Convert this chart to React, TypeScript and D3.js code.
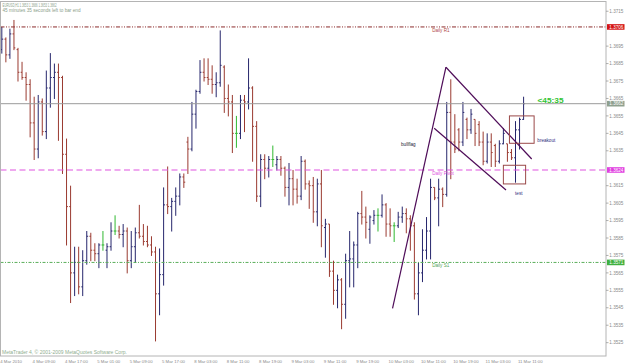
import React from "react";
import * as d3 from "d3";

// EURUSD H1 bars (open / high / low / close), 4 Mar 2010 01:00 → 11 Mar 12:00
const opens = [
  1.3693, 1.3699, 1.3690, 1.3702, 1.3693, 1.3680, 1.3677, 1.3673, 1.3651, 1.3636,
  1.3663, 1.3646, 1.3671, 1.3677, 1.3680, 1.3677, 1.3633, 1.3603, 1.3565, 1.3571,
  1.3557, 1.3572, 1.3586, 1.3578, 1.3576, 1.3581, 1.3578, 1.3580, 1.3589, 1.3589,
  1.3587, 1.3589, 1.3572, 1.3580, 1.3588, 1.3586, 1.3583, 1.3581, 1.3577, 1.3553,
  1.3564, 1.3604, 1.3603, 1.3606, 1.3609, 1.3620, 1.3640, 1.3636, 1.3656, 1.3669,
  1.3680, 1.3677, 1.3676, 1.3673, 1.3674, 1.3683, 1.3665, 1.3663, 1.3645, 1.3645,
  1.3664, 1.3663, 1.3671, 1.3649, 1.3609, 1.3630, 1.3625, 1.3630, 1.3627, 1.3630,
  1.3625, 1.3614, 1.3619, 1.3613, 1.3609, 1.3629, 1.3616, 1.3615, 1.3600, 1.3616,
  1.3591, 1.3593, 1.3566, 1.3555, 1.3561, 1.3547, 1.3572, 1.3573, 1.3581, 1.3599,
  1.3597, 1.3590, 1.3595, 1.3598, 1.3598, 1.3604, 1.3593, 1.3592, 1.3592, 1.3597,
  1.3599, 1.3596, 1.3592, 1.3553, 1.3565, 1.3578, 1.3589, 1.3614, 1.3608, 1.3613,
  1.3610, 1.3657, 1.3640, 1.3647, 1.3640, 1.3653, 1.3647, 1.3653, 1.3650, 1.3640,
  1.3629, 1.3640, 1.3638, 1.3629, 1.3639, 1.3639, 1.3634, 1.3631, 1.3647, 1.3653,
];
const highs = [
  1.3706, 1.3700, 1.3705, 1.3710, 1.3694, 1.3686, 1.3680, 1.3676, 1.3666, 1.3667,
  1.3665, 1.3681, 1.3691, 1.3685, 1.3685, 1.3678, 1.3642, 1.3615, 1.3580, 1.3580,
  1.3578, 1.3589, 1.3588, 1.3582, 1.3582, 1.3589, 1.3582, 1.3594, 1.3598, 1.3592,
  1.3593, 1.3591, 1.3589, 1.3591, 1.3604, 1.3593, 1.3592, 1.3586, 1.3580, 1.3579,
  1.3614, 1.3626, 1.3608, 1.3614, 1.3622, 1.3622, 1.3643, 1.3663, 1.3670, 1.3687,
  1.3688, 1.3688, 1.3684, 1.3680, 1.3704, 1.3684, 1.3673, 1.3667, 1.3655, 1.3667,
  1.3667, 1.3688, 1.3672, 1.3652, 1.3633, 1.3633, 1.3632, 1.3638, 1.3632, 1.3632,
  1.3626, 1.3628, 1.3624, 1.3619, 1.3632, 1.3630, 1.3618, 1.3620, 1.3619, 1.3624,
  1.3596, 1.3593, 1.3572, 1.3564, 1.3562, 1.3576, 1.3589, 1.3583, 1.3600, 1.3612,
  1.3603, 1.3598, 1.3601, 1.3602, 1.3610, 1.3605, 1.3602, 1.3594, 1.3600, 1.3603,
  1.3602, 1.3598, 1.3594, 1.3571, 1.3590, 1.3597, 1.3619, 1.3614, 1.3619, 1.3614,
  1.3663, 1.3676, 1.3656, 1.3648, 1.3663, 1.3654, 1.3659, 1.3653, 1.3652, 1.3646,
  1.3645, 1.3645, 1.3639, 1.3641, 1.3648, 1.3639, 1.3636, 1.3652, 1.3654, 1.3666,
];
const lows = [
  1.3691, 1.3686, 1.3688, 1.3693, 1.3675, 1.3676, 1.3664, 1.3643, 1.3630, 1.3631,
  1.3644, 1.3642, 1.3660, 1.3665, 1.3641, 1.3622, 1.3581, 1.3548, 1.3552, 1.3553,
  1.3552, 1.3570, 1.3572, 1.3572, 1.3568, 1.3578, 1.3568, 1.3578, 1.3587, 1.3585,
  1.3580, 1.3565, 1.3568, 1.3571, 1.3585, 1.3581, 1.3580, 1.3575, 1.3526, 1.3541,
  1.3558, 1.3599, 1.3589, 1.3598, 1.3604, 1.3614, 1.3622, 1.3635, 1.3648, 1.3668,
  1.3675, 1.3673, 1.3668, 1.3666, 1.3672, 1.3657, 1.3655, 1.3634, 1.3637, 1.3642,
  1.3646, 1.3659, 1.3629, 1.3606, 1.3603, 1.3619, 1.3620, 1.3626, 1.3624, 1.3621,
  1.3609, 1.3604, 1.3604, 1.3605, 1.3607, 1.3613, 1.3602, 1.3594, 1.3592, 1.3580,
  1.3574, 1.3563, 1.3547, 1.3545, 1.3533, 1.3539, 1.3557, 1.3557, 1.3568, 1.3593,
  1.3585, 1.3582, 1.3593, 1.3589, 1.3597, 1.3586, 1.3586, 1.3583, 1.3591, 1.3594,
  1.3588, 1.3578, 1.3550, 1.3541, 1.3560, 1.3573, 1.3573, 1.3607, 1.3592, 1.3603,
  1.3609, 1.3619, 1.3634, 1.3635, 1.3638, 1.3642, 1.3645, 1.3638, 1.3638, 1.3627,
  1.3628, 1.3626, 1.3626, 1.3628, 1.3639, 1.3629, 1.3630, 1.3617, 1.3636, 1.3653,
];
const closes = [
  1.3699, 1.3690, 1.3702, 1.3694, 1.3680, 1.3677, 1.3673, 1.3651, 1.3636, 1.3663,
  1.3646, 1.3671, 1.3677, 1.3680, 1.3677, 1.3633, 1.3603, 1.3565, 1.3571, 1.3557,
  1.3572, 1.3586, 1.3578, 1.3576, 1.3581, 1.3581, 1.3580, 1.3589, 1.3589, 1.3587,
  1.3589, 1.3572, 1.3580, 1.3588, 1.3586, 1.3583, 1.3581, 1.3577, 1.3553, 1.3564,
  1.3604, 1.3603, 1.3606, 1.3609, 1.3620, 1.3617, 1.3636, 1.3656, 1.3669, 1.3680,
  1.3677, 1.3676, 1.3673, 1.3674, 1.3684, 1.3665, 1.3663, 1.3645, 1.3645, 1.3664,
  1.3663, 1.3671, 1.3649, 1.3609, 1.3630, 1.3625, 1.3630, 1.3630, 1.3630, 1.3625,
  1.3614, 1.3619, 1.3613, 1.3609, 1.3629, 1.3616, 1.3615, 1.3600, 1.3616, 1.3592,
  1.3593, 1.3566, 1.3555, 1.3561, 1.3547, 1.3572, 1.3573, 1.3581, 1.3599, 1.3597,
  1.3594, 1.3597, 1.3598, 1.3598, 1.3604, 1.3593, 1.3592, 1.3592, 1.3597, 1.3599,
  1.3596, 1.3592, 1.3553, 1.3565, 1.3578, 1.3589, 1.3614, 1.3608, 1.3613, 1.3610,
  1.3657, 1.3640, 1.3636, 1.3640, 1.3657, 1.3647, 1.3656, 1.3645, 1.3640, 1.3629,
  1.3640, 1.3634, 1.3629, 1.3639, 1.3645, 1.3634, 1.3631, 1.3647, 1.3653, 1.3662,
];

const timeLabels = [
  "4 Mar 2010", "4 Mar 09:00", "4 Mar 17:00", "5 Mar 01:00", "5 Mar 09:00",
  "5 Mar 17:00", "8 Mar 03:00", "8 Mar 11:00", "8 Mar 19:00", "9 Mar 03:00",
  "9 Mar 11:00", "9 Mar 19:00", "10 Mar 03:00", "10 Mar 11:00", "10 Mar 19:00",
  "11 Mar 03:00", "11 Mar 11:00",
];
const barsPerTimeLabel = 8;

const priceTicks = [
  1.3525, 1.3535, 1.3545, 1.3555, 1.3565, 1.3575, 1.3585, 1.3595, 1.3605, 1.3615,
  1.3625, 1.3635, 1.3645, 1.3655, 1.3665, 1.3675, 1.3685, 1.3695, 1.3705, 1.3715,
];

// horizontal levels: R1, bid, pivot, S1
const levelValues = [1.3706, 1.3662, 1.3624, 1.3571];
const levelNames = ["Daily R1", "", "Daily Pivot", "Daily S1"];

// hand-drawn objects (bar index, price)
const poleLine = [[96.6, 1.35447], [109.8, 1.36829]];
const flagUpperLine = [[109.8, 1.36829], [131.0, 1.36303]];
const flagLowerLine = [[106.9, 1.36479], [124.65, 1.36125]];
const breakoutBox = [[125.5, 1.3655], [131.6, 1.36393]];
const testBox = [[124.0, 1.36267], [129.5, 1.3616]];
const noteTexts = ["bullflag", "breakout", "test"];
const noteAnchors = [[98.7, 1.36375], [132.4, 1.36403], [126.9, 1.36098]];

const symbolLine = "EURUSD,H1  1.3653 1.3666 1.3653 1.3662";
const timerLine = "45 minutes 35 seconds left to bar end";
const timerShort = "<45:35";
const copyright = "MetaTrader 4, \u00a9 2001-2009 MetaQuotes Software Corp.";

const FONT = "'Liberation Sans', Arial, sans-serif";

export default function App() {
  const W = 625;
  const H = 364;
  const plotRight = 606;
  const plotBottom = 356;

  const x = d3.scaleLinear().domain([0, opens.length - 1]).range([1.82, 523.6]);
  const y = d3.scaleLinear().domain([1.35185, 1.37203]).range([354, 2]);

  const upColor = "#26266c";
  const downColor = "#9a3a30";
  const dojiColor = "#30b830";

  const levelStroke = ["#8b2c2c", "#9a9a9a", "#e055e0", "#5aae5a"];
  const levelDash = ["4,1.5,1,1.5,1,1.5", "", "6,3.5", "3,1.5,1,1.5"];
  const levelBox = ["#d41414", "#8fa08f", "#e040e0", "#3fb03f"];
  const levelText = ["#b04848", "", "#dd55dd", "#55a555"];

  const line = d3
    .line<number[]>()
    .x((d) => x(d[0]))
    .y((d) => y(d[1]));

  const trendColor = "#4e0c58";
  const boxColor = "#9a4848";

  const hiddenTick = (v: number) =>
    levelValues.some((lv) => Math.abs(y(lv) - y(v)) < 4);

  return (
    <svg
      width={W}
      height={H}
      style={{ position: "absolute", left: 0, top: 0, background: "#ffffff" }}
      fontFamily={FONT}
    >
      <rect x={0} y={0} width={W} height={H} fill="#ffffff" />

      {/* bars */}
      {opens.map((o, i) => {
        const c = closes[i];
        const col = c > o ? upColor : c < o ? downColor : dojiColor;
        const xi = x(i);
        return (
          <g key={i} stroke={col}>
            <line x1={xi} x2={xi} y1={y(highs[i])} y2={y(lows[i]) + 0.5} strokeWidth={1} />
            <line x1={xi - 1.4} x2={xi} y1={y(o)} y2={y(o)} strokeWidth={1} />
            <line x1={xi} x2={xi + 1.4} y1={y(c)} y2={y(c)} strokeWidth={1} />
          </g>
        );
      })}

      {/* horizontal levels */}
      {levelValues.map((v, k) => (
        <g key={"lv" + k}>
          <line
            x1={0.5}
            x2={plotRight}
            y1={y(v)}
            y2={y(v)}
            stroke={levelStroke[k]}
            strokeWidth={k === 2 ? 1.2 : 1}
            strokeDasharray={levelDash[k] || undefined}
          />
          {levelNames[k] && (
            <text x={x(106.4)} y={y(v) + 5} fontSize={4.6} fill={levelText[k]}>
              {levelNames[k]}
            </text>
          )}
        </g>
      ))}

      {/* trend lines */}
      {[poleLine, flagUpperLine, flagLowerLine].map((pts, k) => (
        <path key={"tl" + k} d={line(pts) || ""} stroke={trendColor} strokeWidth={1.2} fill="none" />
      ))}

      {/* boxes */}
      {[breakoutBox, testBox].map((b, k) => (
        <rect
          key={"bx" + k}
          x={x(b[0][0])}
          y={y(b[0][1])}
          width={x(b[1][0]) - x(b[0][0])}
          height={y(b[1][1]) - y(b[0][1])}
          fill="none"
          stroke={boxColor}
          strokeWidth={1}
        />
      ))}

      {noteTexts.map((t, k) => (
        <text
          key={"nt" + k}
          x={x(noteAnchors[k][0])}
          y={y(noteAnchors[k][1])}
          fontSize={4.6}
          fill={k === 0 ? "#222233" : "#2e2e80"}
        >
          {t}
        </text>
      ))}

      <text x={537.5} y={102.5} fontSize={8} fontWeight="bold" fill="#33c433" textLength={26} lengthAdjust="spacingAndGlyphs">
        {timerShort}
      </text>

      {/* frame */}
      <rect x={0.5} y={1.5} width={plotRight - 0.5} height={plotBottom - 1.5} fill="none" stroke="#b4b4b4" strokeWidth={1} />

      {/* price axis */}
      {priceTicks.filter((v) => !hiddenTick(v)).map((v) => (
        <g key={"pt" + v}>
          <line x1={plotRight} x2={plotRight + 2.5} y1={y(v)} y2={y(v)} stroke="#9a9a9a" strokeWidth={0.8} />
          <text x={609.3} y={y(v) + 1.7} fontSize={4.6} fill="#8a8a8a">
            {v.toFixed(4)}
          </text>
        </g>
      ))}
      {levelValues.map((v, k) => (
        <g key={"lb" + k}>
          <rect x={607} y={y(v) - 2.8} width={17.5} height={5.6} fill={levelBox[k]} />
          <text x={609.3} y={y(v) + 1.7} fontSize={4.6} fill="#ffffff">
            {v.toFixed(4)}
          </text>
        </g>
      ))}

      {/* time axis */}
      {timeLabels.map((t, k) => (
        <text key={"tl" + k} x={x(k * barsPerTimeLabel) - 1.6} y={363} fontSize={4.3} fill="#8a8a8a">
          {t}
        </text>
      ))}

      {/* header and footer */}
      <text x={2.5} y={7.4} fontSize={4.6} fill="#8aa08a" textLength={54} lengthAdjust="spacingAndGlyphs">
        {symbolLine}
      </text>
      <text x={2.5} y={12.2} fontSize={4.6} fill="#8aa08a" textLength={78} lengthAdjust="spacingAndGlyphs">
        {timerLine}
      </text>
      <text x={2} y={354} fontSize={4.8} fill="#8fae8f" textLength={125} lengthAdjust="spacingAndGlyphs">
        {copyright}
      </text>
    </svg>
  );
}
